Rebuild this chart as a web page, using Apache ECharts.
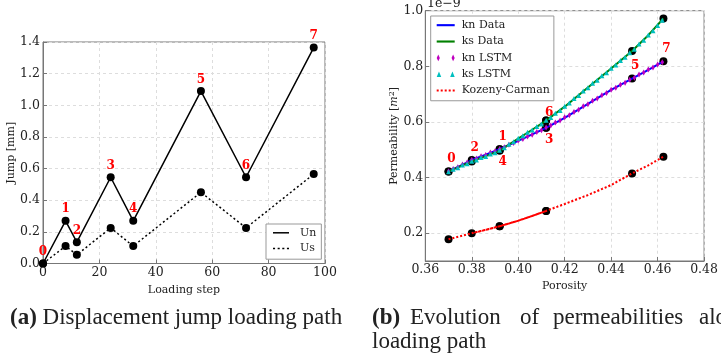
<!DOCTYPE html>
<html>
<head>
<meta charset="utf-8">
<script src="https://cdn.jsdelivr.net/npm/echarts@6/dist/echarts.min.js"></script>
<style>
  html, body { margin: 0; padding: 0; background: #fff; }
  #chart { width: 721px; height: 361px; }
</style>
</head>
<body>
<div id="chart"></div>
<script>
// (a) loading path
const steps = [0, 8, 12, 24, 32, 56, 72, 96];
const unJump = [0, 0.27, 0.135, 0.545, 0.27, 1.09, 0.545, 1.365];
const usJump = [0, 0.11, 0.055, 0.225, 0.11, 0.45, 0.225, 0.565];
const stageNames = ['0', '1', '2', '3', '4', '5', '6', '7'];

// (b) porosity at each stage of the loading path
const stagePor = [0.370, 0.392, 0.380, 0.412, 0.392, 0.449, 0.412, 0.4625];

// permeability curves read along porosity (x 1e-9 m^2)
const curvePor = [0.370, 0.375, 0.380, 0.386, 0.392, 0.400, 0.406, 0.412, 0.420, 0.430, 0.440, 0.449, 0.456, 0.4625];
const knData = [0.422, 0.442, 0.463, 0.482, 0.502, 0.532, 0.555, 0.579, 0.615, 0.665, 0.715, 0.756, 0.787, 0.818];
const ksData = [0.422, 0.440, 0.458, 0.477, 0.497, 0.540, 0.572, 0.605, 0.655, 0.724, 0.792, 0.855, 0.912, 0.972];
const kcData = [0.178, 0.189, 0.200, 0.212, 0.225, 0.245, 0.262, 0.280, 0.305, 0.337, 0.373, 0.415, 0.444, 0.475];

// LSTM predictions
const lstmPor = [0.370, 0.372, 0.374, 0.376, 0.378, 0.380, 0.382, 0.384, 0.386, 0.388, 0.390, 0.392,
  0.394, 0.396, 0.398, 0.400, 0.402, 0.404, 0.406, 0.408, 0.410, 0.412, 0.414, 0.416, 0.418, 0.420,
  0.422, 0.424, 0.426, 0.428, 0.430, 0.432, 0.434, 0.436, 0.438, 0.440, 0.442, 0.444, 0.446, 0.448,
  0.450, 0.452, 0.454, 0.456, 0.458, 0.460, 0.462];
const knLstm = [0.423, 0.431, 0.437, 0.447, 0.454, 0.464, 0.469, 0.477, 0.481, 0.490, 0.495, 0.503,
  0.509, 0.518, 0.524, 0.533, 0.539, 0.548, 0.554, 0.564, 0.570, 0.580, 0.587, 0.598, 0.605, 0.617,
  0.624, 0.636, 0.644, 0.656, 0.664, 0.676, 0.684, 0.696, 0.704, 0.716, 0.723, 0.734, 0.741, 0.752,
  0.759, 0.771, 0.778, 0.789, 0.796, 0.807, 0.815];
const ksLstm = [0.421, 0.430, 0.435, 0.445, 0.450, 0.459, 0.463, 0.472, 0.476, 0.485, 0.489, 0.498,
  0.507, 0.520, 0.529, 0.541, 0.550, 0.563, 0.571, 0.584, 0.593, 0.606, 0.616, 0.631, 0.641, 0.656,
  0.668, 0.684, 0.695, 0.711, 0.723, 0.739, 0.750, 0.766, 0.777, 0.793, 0.805, 0.821, 0.833, 0.849,
  0.861, 0.880, 0.894, 0.913, 0.928, 0.947, 0.966];

const serif = 'DejaVu Serif';
const capFont = 'Liberation Serif';

// follow the loading path back and forth along a curve
function walk(por, val, path) {
  const out = [];
  for (let s = 0; s < path.length - 1; s++) {
    const a = path[s], b = path[s + 1];
    const lo = Math.min(a, b), hi = Math.max(a, b);
    let seg = [];
    for (let i = 0; i < por.length; i++) {
      if (por[i] >= lo - 1e-9 && por[i] <= hi + 1e-9) seg.push([por[i], val[i]]);
    }
    if (a > b) seg.reverse();
    if (out.length) seg = seg.slice(1);
    out.push(...seg);
  }
  return out;
}

const atStage = (val) => stagePor.map((p) => [p, val[curvePor.indexOf(p)]]);
const zip = (xs, ys) => xs.map((x, i) => [x, ys[i]]);

const redLabel = { color: '#ff0000', fontFamily: serif, fontWeight: 'bold', fontSize: 12 };

const axisCommon = {
  axisLine: { show: true, lineStyle: { color: '#777', width: 1 } },
  axisTick: { show: true, inside: true, length: 4, lineStyle: { color: '#777' } },
  splitLine: { show: true, lineStyle: { color: '#ddd', type: [3, 3] } },
  axisLabel: { color: '#222', fontFamily: serif, fontSize: 12.5 },
  nameLocation: 'middle',
  nameTextStyle: { color: '#222', fontFamily: serif, fontSize: 11 }
};

const capStyle = { fontFamily: capFont, fontSize: 23, fontWeight: 'normal', color: '#222', lineHeight: 24 };
const capWord = (w) => Object.assign({}, capStyle, { width: w });

const chart = echarts.init(document.getElementById('chart'));

const option = {
  animation: false,
  backgroundColor: '#fff',
  title: [
    {
      text: '{b|(a)} Displacement jump loading path',
      left: 10, top: 306, padding: 0,
      textStyle: Object.assign({}, capStyle, {
        rich: { b: Object.assign({}, capStyle, { fontWeight: 'bold' }) }
      })
    },
    {
      // justified first line, as in the source document
      text: '{b|(b)}{e|Evolution}{o|of}{p|permeabilities}{t|along the}\n{t|loading path}',
      left: 372, top: 306, padding: 0,
      textStyle: Object.assign({}, capStyle, {
        rich: {
          b: Object.assign(capWord(38), { fontWeight: 'bold' }),
          e: capWord(110),
          o: capWord(33),
          p: capWord(146),
          t: capStyle
        }
      })
    }
  ],
  graphic: [
    {
      type: 'text', left: 427, top: -3,
      style: { text: '1e\u22129', fontFamily: serif, fontSize: 12.5, fill: '#222' }
    }
  ],
  grid: [
    { left: 43, top: 42, width: 282, height: 221.5, show: true, borderColor: '#777', borderWidth: 1 },
    { left: 425.3, top: 10.7, width: 282, height: 250.3, show: true, borderColor: '#777', borderWidth: 1 }
  ],
  legend: [
    {
      data: [
        { name: 'Un', icon: 'path://M0,0H16V1.5H0Z' },
        { name: 'Us', icon: 'path://M0,0H2V1.5H0ZM4.5,0H6.5V1.5H4.5ZM9,0H11V1.5H9ZM13.5,0H15.5V1.5H13.5Z' }
      ],
      orient: 'vertical', left: 266, top: 224,
      itemWidth: 16, itemHeight: 8, itemGap: 0,
      padding: [1, 5, 3, 7],
      backgroundColor: '#fff', borderColor: '#999', borderWidth: 1, borderRadius: 0,
      textStyle: { fontFamily: serif, fontSize: 11, color: '#222', lineHeight: 15.6, padding: [0, 0, 0, 6] }
    },
    {
      data: [
        { name: 'kn Data', icon: 'path://M0,0H17V2H0Z' },
        { name: 'ks Data', icon: 'path://M0,0H17V2H0Z' },
        { name: 'kn LSTM', icon: 'path://M2,0L3.6,3.5L2,7L0.4,3.5ZM17,0L18.6,3.5L17,7L15.4,3.5Z' },
        { name: 'ks LSTM', icon: 'path://M0,7L2.4,1L4.8,7ZM14.2,7L16.6,1L19,7Z' },
        { name: 'Kozeny-Carman', icon: 'path://M0,0H2V2H0ZM4,0H6V2H4ZM8,0H10V2H8ZM12,0H14V2H12ZM16,0H18V2H16Z' }
      ],
      orient: 'vertical', left: 430.7, top: 16,
      itemWidth: 18, itemHeight: 8, itemGap: 0,
      padding: [1, 4, 2, 6],
      backgroundColor: '#fff', borderColor: '#999', borderWidth: 1, borderRadius: 0,
      textStyle: { fontFamily: serif, fontSize: 11, color: '#222', lineHeight: 16.35, padding: [0, 0, 0, 2] }
    }
  ],
  xAxis: [
    Object.assign({}, axisCommon, {
      type: 'value', gridIndex: 0, min: 0, max: 100, interval: 20,
      name: 'Loading step', nameGap: 11,
      axisLabel: Object.assign({}, axisCommon.axisLabel, { margin: 3 })
    }),
    Object.assign({}, axisCommon, {
      type: 'value', gridIndex: 1, min: 0.36, max: 0.48, interval: 0.02,
      name: 'Porosity', nameGap: 9,
      axisLabel: Object.assign({}, axisCommon.axisLabel, { margin: 2, formatter: (v) => v.toFixed(2) })
    })
  ],
  yAxis: [
    Object.assign({}, axisCommon, {
      type: 'value', gridIndex: 0, min: 0, max: 1.4, interval: 0.2,
      name: 'Jump [mm]', nameGap: 15,
      axisLabel: Object.assign({}, axisCommon.axisLabel, { margin: 3, formatter: (v) => v.toFixed(1) })
    }),
    Object.assign({}, axisCommon, {
      type: 'value', gridIndex: 1, min: 0.1, max: 1.0,
      name: 'Permeability [{i|m}{s|2}]', nameGap: 19,
      nameTextStyle: Object.assign({}, axisCommon.nameTextStyle, {
        rich: {
          i: { fontFamily: serif, fontStyle: 'italic', fontSize: 11, color: '#222' },
          s: { fontFamily: serif, fontSize: 8, color: '#222', verticalAlign: 'top', padding: [0, 0, 5, 0] }
        }
      }),
      axisTick: Object.assign({}, axisCommon.axisTick, { customValues: [0.2, 0.4, 0.6, 0.8, 1.0] }),
      axisLabel: Object.assign({}, axisCommon.axisLabel, {
        margin: 2, customValues: [0.2, 0.4, 0.6, 0.8, 1.0], formatter: (v) => v.toFixed(1)
      })
    })
  ],
  series: [
    {
      name: 'Un', type: 'line', xAxisIndex: 0, yAxisIndex: 0,
      data: zip(steps, unJump).map((d, i) => ({
        value: d,
        label: { offset: i === 0 ? [4, 1] : [0, 0] }
      })),
      symbol: 'circle', symbolSize: 8, color: '#000',
      itemStyle: { color: '#000' },
      lineStyle: { color: '#000', width: 1.5 },
      label: {
        show: true, position: 'top', distance: 1.5, ...redLabel,
        formatter: (p) => stageNames[p.dataIndex]
      },
      labelLayout: { hideOverlap: false },
      z: 3
    },
    {
      name: 'Us', type: 'line', xAxisIndex: 0, yAxisIndex: 0,
      data: zip(steps, usJump),
      symbol: 'circle', symbolSize: 8, color: '#000',
      itemStyle: { color: '#000' },
      lineStyle: { color: '#000', width: 1.5, type: [2, 2.5] },
      z: 3
    },
    // black stage markers (b)
    {
      name: 'knStage', type: 'scatter', xAxisIndex: 1, yAxisIndex: 1,
      data: atStage(knData).map((d, i) => {
        const below = i === 3 || i === 4;
        return {
          value: d,
          label: {
            position: below ? 'bottom' : 'top',
            offset: i === 6 ? [3, -2] : [3, 0]
          }
        };
      }),
      symbolSize: 8, itemStyle: { color: '#000', opacity: 1 },
      label: {
        show: true, distance: 2.5, ...redLabel,
        formatter: (p) => stageNames[p.dataIndex]
      },
      z: 1
    },
    {
      name: 'ksStage', type: 'scatter', xAxisIndex: 1, yAxisIndex: 1,
      data: atStage(ksData), symbolSize: 8, itemStyle: { color: '#000', opacity: 1 }, z: 1
    },
    {
      name: 'kcStage', type: 'scatter', xAxisIndex: 1, yAxisIndex: 1,
      data: atStage(kcData), symbolSize: 8, itemStyle: { color: '#000', opacity: 1 }, z: 1
    },
    {
      name: 'kn Data', type: 'line', xAxisIndex: 1, yAxisIndex: 1,
      data: walk(curvePor, knData, stagePor),
      showSymbol: false, symbol: 'none', color: '#0000ff',
      itemStyle: { color: '#0000ff' },
      lineStyle: { color: '#0000ff', width: 2 }, z: 2
    },
    {
      name: 'ks Data', type: 'line', xAxisIndex: 1, yAxisIndex: 1,
      data: walk(curvePor, ksData, stagePor),
      showSymbol: false, symbol: 'none', color: '#008000',
      itemStyle: { color: '#008000' },
      lineStyle: { color: '#008000', width: 2 }, z: 2
    },
    {
      name: 'kn LSTM', type: 'scatter', xAxisIndex: 1, yAxisIndex: 1,
      data: zip(lstmPor, knLstm),
      symbol: 'diamond', symbolSize: [3.5, 6], color: '#bf00bf',
      itemStyle: { color: '#bf00bf', opacity: 1 }, z: 3
    },
    {
      name: 'ks LSTM', type: 'scatter', xAxisIndex: 1, yAxisIndex: 1,
      data: zip(lstmPor, ksLstm),
      symbol: 'triangle', symbolSize: [5, 5], color: '#00bfbf',
      itemStyle: { color: '#00bfbf', opacity: 1 }, z: 3
    },
    {
      name: 'Kozeny-Carman', type: 'line', xAxisIndex: 1, yAxisIndex: 1,
      data: walk(curvePor, kcData, stagePor),
      showSymbol: false, symbol: 'none', color: '#ff0000',
      itemStyle: { color: '#ff0000' },
      lineStyle: { color: '#ff0000', width: 2, type: [2, 2], cap: 'butt' }, z: 2
    }
  ]
};

chart.setOption(option);
</script>
</body>
</html>
